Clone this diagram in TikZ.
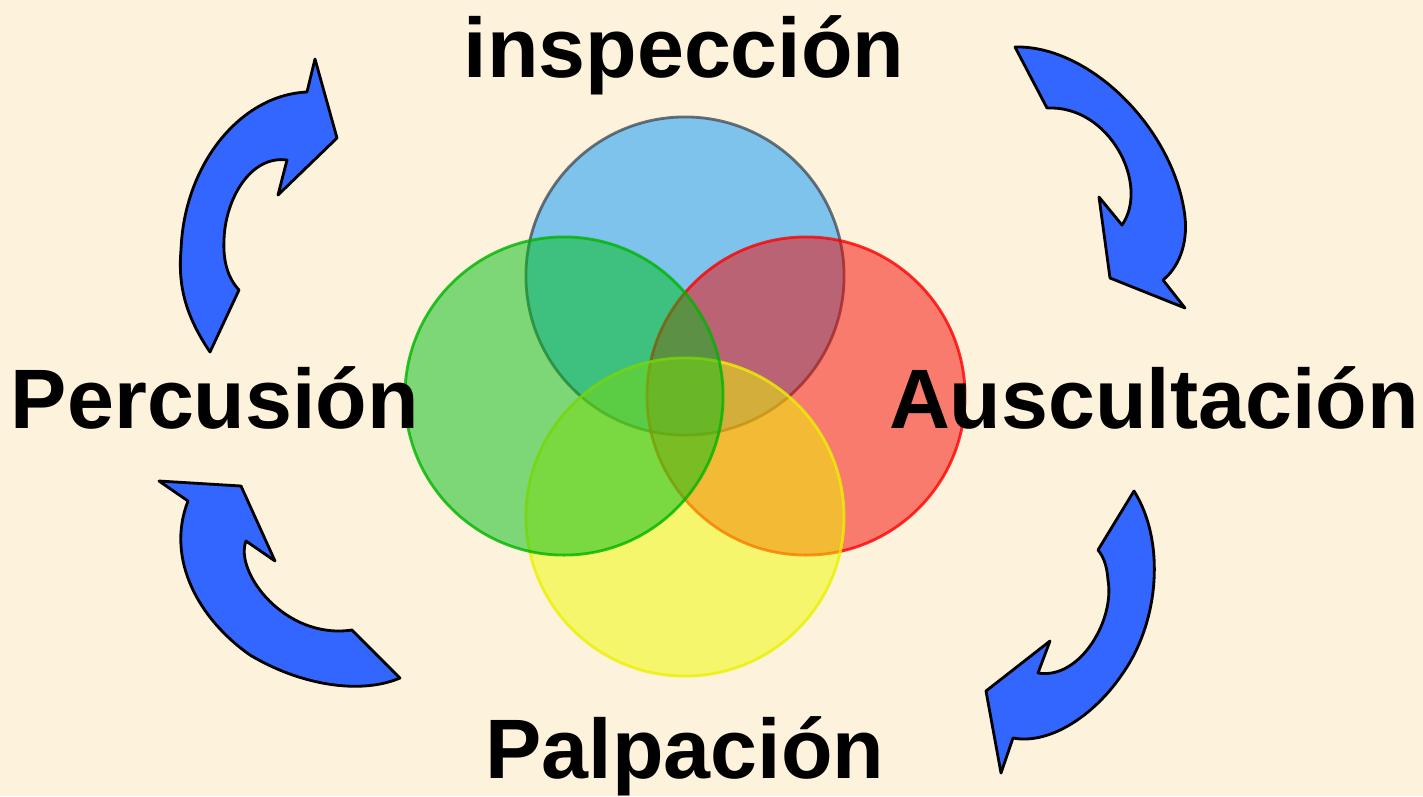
\documentclass[tikz,border=0pt]{standalone}
\usepackage{fontspec}
\setmainfont{Liberation Sans}
\usetikzlibrary{backgrounds}
\definecolor{paper}{RGB}{253,242,220}
\definecolor{turnblue}{RGB}{51,102,255}
\definecolor{insfill}{RGB}{0,150,250}
\definecolor{insedge}{RGB}{70,80,90}
\definecolor{ausfill}{RGB}{245,5,0}
\definecolor{ausedge}{RGB}{255,0,0}
\definecolor{palfill}{RGB}{240,250,0}
\definecolor{paledge}{RGB}{235,240,0}
\definecolor{perfill}{RGB}{0,190,20}
\definecolor{peredge}{RGB}{0,180,0}
\tikzset{ring/.style={circle,minimum size=\ringsize,inner sep=0pt,
                      fill opacity=0.5,draw opacity=0.8,line width=0.8pt}}
\tikzset{turn/.style={fill=turnblue,draw=black,line width=0.8pt,line join=round}}
\def\ringsize{3.18cm}

\begin{document}
\begin{tikzpicture}[x=0.01cm,y=-0.01cm]
    \tikzstyle{word}=[font=\fontsize{24}{28}\selectfont\bfseries,anchor=base,inner sep=0pt]

    % Draw the background
    \fill[paper] (0,0) rectangle (1423,796);

    % Draw the four circles (blue, red, yellow, then green on top)
    \foreach \name / \x / \y / \fc / \ec in {insp/685/276/insfill/insedge,
                                             ausc/806/396/ausfill/ausedge,
                                             palp/685/517/palfill/paledge,
                                             perc/564/396/perfill/peredge}
        \node[ring,fill=\fc,draw=\ec] (C-\name) at (\x,\y) {};

    % Draw the four curved arrows
    \path[turn] (210,352) .. controls (185,315) and (178,285) .. (181,250)
        .. controls (184,165) and (240,95) .. (307,92)
        -- (315,59) -- (337,138) -- (278,195) -- (287,160)
        .. controls (250,155) and (225,200) .. (224,240)
        .. controls (223,262) and (228,278) .. (239,290) -- cycle;
    \path[turn] (1015,47) .. controls (1090,45) and (1175,130) .. (1185,217)
        .. controls (1188,245) and (1178,268) .. (1163,280)
        -- (1185,308) -- (1110,278) -- (1099,197) -- (1122,225)
        .. controls (1150,185) and (1110,105) .. (1047,108) -- cycle;
    \path[turn] (1134,491) .. controls (1165,540) and (1160,620) .. (1123,673)
        .. controls (1095,715) and (1050,745) .. (1013,738)
        -- (1001,773) -- (986,691) -- (1050,641) -- (1038,673)
        .. controls (1080,680) and (1115,620) .. (1108,580)
        .. controls (1107,565) and (1103,556) .. (1098,550) -- cycle;
    \path[turn] (400,678) .. controls (360,695) and (300,685) .. (250,655)
        .. controls (200,620) and (165,560) .. (188,501)
        -- (159,481) -- (241,486) -- (275,561) -- (246,541)
        .. controls (234,572) and (285,640) .. (352,630) -- cycle;

    % Annotate the circles
    \node[word] (insp) at (684,77) {inspección};
    \node[word] (perc) at (215,428) {Percusión};
    \node[word] (ausc) at (1154,428) {Auscultación};
    \node[word] (palp) at (685,778) {Palpación};
\end{tikzpicture}
\end{document}
